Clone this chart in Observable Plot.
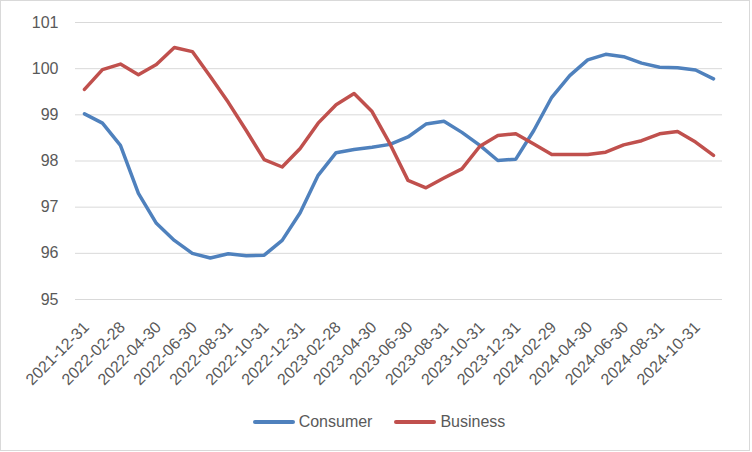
<!DOCTYPE html>
<html>
<head>
<meta charset="utf-8">
<script src="https://cdn.jsdelivr.net/npm/d3@7"></script>
<script src="https://cdn.jsdelivr.net/npm/@observablehq/plot@0.6"></script>
<style>
  html, body { margin: 0; padding: 0; background: #fff; }
  #wrap { position: relative; width: 750px; height: 451px; border: 1px solid #d9d9d9; box-sizing: border-box; background: #fff; font-family: "Liberation Sans", Arial, sans-serif; }
  #chart { position: absolute; left: 0; top: 0; }
  #legend { position: absolute; left: 0; top: 412px; width: 748px; display: flex; justify-content: center; align-items: center; font-size: 16px; color: #595959; padding-left: 8px; box-sizing: border-box; }
  .item { display: flex; align-items: center; margin: 0 11px; }
  .sw { width: 42px; height: 4px; border-radius: 2px; margin-right: 4px; }
</style>
</head>
<body>
<div id="wrap">
  <div id="chart"></div>
  <div id="legend"></div>
</div>
<script>
const dates = ["2021-12-31","2022-01-31","2022-02-28","2022-03-31","2022-04-30","2022-05-31","2022-06-30","2022-07-31","2022-08-31","2022-09-30","2022-10-31","2022-11-30","2022-12-31","2023-01-31","2023-02-28","2023-03-31","2023-04-30","2023-05-31","2023-06-30","2023-07-31","2023-08-31","2023-09-30","2023-10-31","2023-11-30","2023-12-31","2024-01-31","2024-02-29","2024-03-31","2024-04-30","2024-05-31","2024-06-30","2024-07-31","2024-08-31","2024-09-30","2024-10-31","2024-11-30"];
const consumer = [99.02,98.82,98.34,97.30,96.65,96.28,96.00,95.90,95.99,95.95,95.96,96.28,96.88,97.69,98.18,98.25,98.30,98.36,98.52,98.80,98.86,98.62,98.34,98.01,98.04,98.66,99.38,99.85,100.19,100.31,100.26,100.12,100.03,100.02,99.97,99.78];
const business = [99.55,99.98,100.10,99.87,100.09,100.46,100.37,99.83,99.27,98.66,98.03,97.87,98.27,98.82,99.22,99.46,99.07,98.37,97.58,97.42,97.63,97.83,98.32,98.55,98.59,98.37,98.14,98.14,98.14,98.19,98.35,98.44,98.59,98.64,98.41,98.12];
const seriesNames = ["Consumer","Business"];
const seriesColors = ["#4f81bd","#c0504d"];
const yTicks = [95,96,97,98,99,100,101];
const xTicks = ["2021-12-31","2022-02-28","2022-04-30","2022-06-30","2022-08-31","2022-10-31","2022-12-31","2023-02-28","2023-04-30","2023-06-30","2023-08-31","2023-10-31","2023-12-31","2024-02-29","2024-04-30","2024-06-30","2024-08-31","2024-10-31"];

const rows = [];
[consumer, business].forEach((vals, k) => {
  vals.forEach((v, i) => rows.push({date: dates[i], value: v, series: seriesNames[k]}));
});

const chart = Plot.plot({
  width: 748,
  height: 400,
  marginLeft: 74,
  marginRight: 27,
  marginTop: 21,
  marginBottom: 102,
  style: {fontFamily: "'Liberation Sans', Arial, sans-serif", fontSize: "16px", color: "#595959", background: "#fff"},
  x: {type: "point", domain: dates, padding: 0.5, label: null},
  y: {domain: [95, 101], label: null},
  color: {domain: seriesNames, range: seriesColors},
  marks: [
    Plot.gridY(yTicks, {stroke: "#d9d9d9", strokeOpacity: 1, strokeWidth: 1}),
    Plot.axisY({ticks: yTicks, tickFormat: d => String(d), tickSize: 0, tickPadding: 17, fontSize: 16, fill: "#595959", label: null}),
    Plot.axisX({ticks: xTicks, tickSize: 0, tickRotate: -45, tickPadding: 25, dx: 2, fontSize: 16, fill: "#595959", label: null}),
    Plot.line(rows, {x: "date", y: "value", z: "series", stroke: "series", strokeWidth: 3.5, strokeLinejoin: "round", strokeLinecap: "round"})
  ]
});
document.getElementById("chart").appendChild(chart);

const legend = document.getElementById("legend");
seriesNames.forEach((name, k) => {
  const item = document.createElement("div");
  item.className = "item";
  const sw = document.createElement("span");
  sw.className = "sw";
  sw.style.background = seriesColors[k];
  const t = document.createElement("span");
  t.textContent = name;
  item.appendChild(sw);
  item.appendChild(t);
  legend.appendChild(item);
});
</script>
</body>
</html>
